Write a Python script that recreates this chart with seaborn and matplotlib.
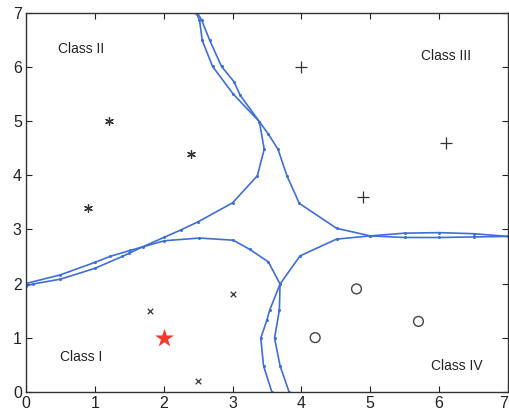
import numpy as np
import pandas as pd
import matplotlib
matplotlib.use("Agg")
import matplotlib.pyplot as plt
import seaborn as sns

# sample points per class
class1_x = [1.8, 3.0, 2.5]
class1_y = [1.5, 1.8, 0.2]
class2_x = [1.2, 2.4, 0.9]
class2_y = [5.0, 4.4, 3.4]
class3_x = [4.0, 6.1, 4.9]
class3_y = [6.0, 4.6, 3.6]
class4_x = [4.8, 5.7, 4.2]
class4_y = [1.9, 1.3, 1.0]
test_x = [2.0]
test_y = [1.0]

# decision boundary polylines
b1_x = [0.0, 0.1, 0.5, 1.0, 1.4, 1.5, 1.7, 2.0, 2.25, 2.5, 3.0, 3.36, 3.46, 3.39, 3.11, 3.02, 2.84, 2.67, 2.55, 2.49]
b1_y = [1.95, 1.99, 2.08, 2.28, 2.50, 2.56, 2.68, 2.85, 2.99, 3.14, 3.49, 3.99, 4.48, 4.99, 5.48, 5.73, 6.01, 6.49, 6.87, 7.0]
b2_x = [2.47, 2.52, 2.56, 2.71, 3.01, 3.39, 3.52, 3.66, 3.79, 3.97, 4.51, 5.0, 5.5, 6.0, 6.5, 7.0]
b2_y = [7.0, 6.87, 6.49, 6.01, 5.50, 4.99, 4.76, 4.48, 3.99, 3.48, 3.02, 2.88, 2.93, 2.94, 2.92, 2.87]
b3_x = [0.0, 0.5, 1.0, 1.22, 1.51, 2.01, 2.52, 3.01, 3.25, 3.52, 3.69, 3.54, 3.50, 3.41, 3.45, 3.57]
b3_y = [2.0, 2.16, 2.39, 2.50, 2.61, 2.79, 2.84, 2.80, 2.63, 2.40, 1.99, 1.51, 1.33, 0.99, 0.48, 0.0]
b4_x = [3.82, 3.69, 3.61, 3.68, 3.69, 3.98, 4.51, 5.0, 5.5, 6.0, 6.5, 7.0]
b4_y = [0.0, 0.48, 0.99, 1.51, 1.99, 2.51, 2.82, 2.88, 2.85, 2.85, 2.86, 2.87]

labels = ["Class I", "Class II", "Class III", "Class IV"]
label_x = [0.8, 0.8, 6.1, 6.25]
label_y = [0.65, 6.33, 6.2, 0.47]

sns.set_style("ticks")
plt.rcParams['font.family'] = ['Liberation Sans', 'DejaVu Sans']

fig = plt.figure(figsize=(5.09, 4.15), dpi=100)
ax = fig.add_axes([0.051, 0.056, 0.947, 0.913])

line_color = '#3f6fd6'
for bx, by in [(b1_x, b1_y), (b2_x, b2_y), (b3_x, b3_y), (b4_x, b4_y)]:
    df = pd.DataFrame({'x': bx, 'y': by})
    sns.lineplot(data=df, x='x', y='y', sort=False, estimator=None, ax=ax,
                 color=line_color, linewidth=1.2, marker='o', markersize=2.2,
                 markeredgewidth=0, markerfacecolor=line_color)

# class markers
sns.scatterplot(x=class1_x, y=class1_y, ax=ax, marker='x', s=16, color='#333333', linewidth=0.9)
sns.scatterplot(x=class2_x, y=class2_y, ax=ax, marker=(6, 2, 0), s=32, color='#333333', linewidth=0.9)
sns.scatterplot(x=class3_x, y=class3_y, ax=ax, marker='+', s=75, color='#333333', linewidth=0.9)
sns.scatterplot(x=class4_x, y=class4_y, ax=ax, marker='o', s=50, facecolor='none',
                edgecolor='#444444', linewidth=1.0)
sns.scatterplot(x=test_x, y=test_y, ax=ax, marker='*', s=200, color='#f03a2a', linewidth=0)

for t, tx, ty in zip(labels, label_x, label_y):
    ax.text(tx, ty, t, ha='center', va='center', fontsize=10, color='#222222')

ax.set_xlim(0, 7)
ax.set_ylim(0, 7)
ax.set_xticks(range(8))
ax.set_yticks(range(8))
ax.set_xlabel('')
ax.set_ylabel('')
ax.tick_params(direction='in', length=4, width=0.8, labelsize=11.5, top=True, right=True,
               pad=3, colors='#222222')
# keep the last x label inside the figure
ax.get_xticklabels()[-1].set_ha('right')
for sp in ax.spines.values():
    sp.set_visible(True)
    sp.set_linewidth(1.0)
    sp.set_color('#333333')

fig.savefig('out.png', dpi=100)
